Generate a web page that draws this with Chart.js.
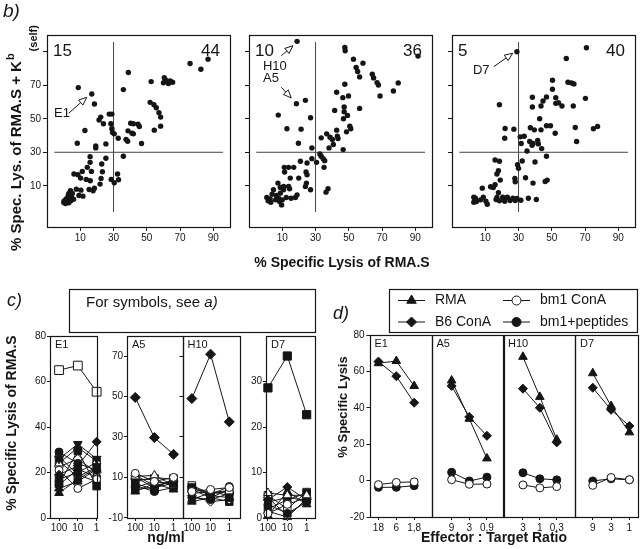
<!DOCTYPE html>
<html><head><meta charset="utf-8">
<script src="https://cdn.jsdelivr.net/npm/chart.js@4.4.1/dist/chart.umd.min.js"></script>
<style>
html,body{margin:0;padding:0;background:#fff;}
#wrap{position:relative;width:640px;height:549px;overflow:hidden;background:#fff;}
#wrap canvas{position:absolute;left:0;top:0;}
</style></head>
<body><div id="wrap"></div>
<script>
// ================= DATA =================
// panel b: scatter of % lysis RMA.S (x) vs RMA.S + Kb(self) (y)
const scatterB1 = [[76,83],[86.8,85.6],[82.5,79.6],[38.9,77.6],[60.5,74.5],[61.5,73],[64,72.5],[65.5,71.8],[60,71.5],[63,71],
 [52.6,72.2],[8.8,68.6],[35.9,67.4],[16.9,64.8],[18.5,58.8],[52,59.8],[54.3,58.4],[55.7,56.6],[57.3,53.6],[58.3,51],[58.3,45.6],[54.5,43.2],
 [27.4,52.8],[29,52.8],[21.3,49.3],[22.3,51],[23.9,47],[28.4,47],[29,44],[29.4,41.8],[30.4,41],
 [40.3,47.3],[41.9,47],[44.7,46.8],[45.5,45.4],[38.7,42.8],[41.1,41.4],[41.9,41],[37.5,37.6],[38.5,36.6],[32.8,38.4],[46.8,35.2],
 [12.8,43],[8.2,35.4],[19.3,33.8],[19.3,32.6],[25.4,35],[35.9,27.6],[15.9,27.4],[15.9,24],[25.4,26.4],
 [11.2,18.6],[14.2,21],[16.7,18.6],[22.9,23],[23.3,18.4],[6.2,17],[8.6,16.6],[10.2,14.6],[13.6,13.8],[16,13],
 [22.5,14.4],[21.9,11],[28.6,13.8],[32.4,17],[33,13.6],[30.4,11.8],[7.6,8],[10.4,7.4],[15.3,7.8],[18.5,8.6],[17.7,7],[9.2,4.2],[11.6,3.8],
 [4.1,7],[3.1,5.4],[5.2,5.4],[2.7,4],[4.7,3],[1.5,2.2],[3.5,2],[0.3,1],[2.3,0.4],[0.1,0],[1.1,-0.6],[3.1,-0.2],[6,2],[4.3,1]];
const scatterB2 = [[18.9,96.2],[47.6,92.6],[47.8,90.6],[91.6,87.4],[52.8,85.6],[58.5,83.2],[54.4,80.6],[55.3,78.2],[56.5,75],
 [64.1,76.6],[64.9,74.4],[67,71.6],[67.8,70.2],[68.8,63.6],[79.7,71.4],[76.8,66.6],[47.6,70.6],
 [42.7,65.8],[49.8,63.6],[46.4,62.6],[47.2,57],[47.2,54.2],[49.2,52],[46.8,50],[56.5,56.2],[41.5,55],
 [50.6,45.6],[51.2,44],[48.6,42.2],[42.7,43.2],[36.7,41],[33.4,38.6],[38.7,39],[40.1,37.6],[43.1,39.6],[43.5,38.2],
 [40.7,34.6],[38.1,32.6],[46.6,31.6],[18.5,59],[23.9,61],[7.6,52.2],[12.8,44],[21.3,43.8],[27,50.6],[19.7,35.4],[27.8,32.6],
 [32.6,29],[33.4,27.6],[34.6,26.2],[35.5,25],[35.1,21],[30.6,24],[27.8,26.2],[24.9,23.6],[20.9,24.6],
 [11.2,21],[13.8,21],[16.9,21],[11.4,18.2],[24.3,18.2],[24.9,16.6],[14.8,14.6],[19.9,14.6],[24.5,11.6],[23.9,9.6],[27,7.6],[37.5,8.2],[36.3,6.2],
 [7.4,11.6],[8.8,9],[10.8,9.6],[13.8,9.6],[14.4,8.2],[10.8,7.6],[8.8,5.6],[4.7,7.6],[3.9,5],[6.4,4.2],[0.7,3],[2.7,2.2],[1.5,1],[3.1,0.2],
 [7.8,2.6],[8.4,0.6],[9.6,-1.4],[12.4,3],[15.3,2.6],[17.9,3],[18.9,4.6],[6,1.6],[10,1.6]];
const scatterB3 = [[29,90],[70.8,92.4],[58.7,86],[50.4,73],[50.4,67.6],[59.7,71.8],[61.9,71.4],[63.3,70.8],[70.2,62.2],
 [46.8,63],[52.4,62.6],[54,59.6],[52.4,59.2],[56.1,57.6],[38.3,62.8],[44.7,60.6],[38.3,57],[43.5,57.6],[62.9,57.6],[18.5,58.4],
 [42.7,50],[46.8,45.8],[49.2,45.8],[52,41.4],[43.5,43.4],[37.1,44.6],[39.5,43.4],[64.1,44.8],[64.9,36.4],[75,44],[77.5,45.4],
 [21.9,44.2],[27.2,43.8],[21.7,38.4],[31,39.2],[33.4,39.6],[31.6,35.2],[36.7,36.4],[38.7,35.2],[41.5,37],[41.9,35],[38.1,34.2],[35.1,30.8],[43.9,32.2],
 [46.8,27.6],[39.9,24.2],[15.9,25.4],[18.5,24.6],[32.2,24.8],[29.4,22.6],[30,20.4],
 [17.9,19],[17,17],[19,13.4],[27.8,14.4],[28,12.4],[34.2,14.8],[47.2,13.4],[46,12.6],[38.7,11.6],
 [15.9,10.6],[13.2,9.4],[14.8,9],[8.2,8.6],[17.9,5.8],[17,3],
 [3.1,3.2],[3.7,1.6],[3.1,0.2],[7.2,1.6],[8.8,3.2],[10.4,0.8],[11.2,-1],[16.5,1.8],[18.5,1],[20.5,3.2],[21.7,0.8],[23.3,3.2],[24.9,1.2],
 [26.6,2.6],[28,1.2],[29,2.4],[31.4,1.4],[35.9,2.6],[40.7,1.8],[4.1,2.6],[4.7,0.6]];
const bQuadrantCut = 30;
const bQuadrantSpan = [-5.6, 95.8];
const bAxisTicks = [10, 30, 50, 70, 90];
const bYTickLabels = ['10', '30', '50', '70', ''];
const bQuadrantCounts = [['15', '44'], ['10', '36'], ['5', '40']];
const bNotes1 = [{text: 'E1', at: [-5.8, 52.9], from: [3.0, 53.3], to: [13.9, 62.8]}];
const bNotes2 = [{text: 'H10', at: [-1.6, 81.2], from: [9.4, 87.6], to: [16.4, 93.6]},
                 {text: 'A5', at: [-1.6, 74.3], from: [9.4, 68.8], to: [15.4, 62.4]}];
const bNotes3 = [{text: 'D7', at: [2.6, 78.8], from: [15.1, 81.1], to: [26.5, 89.1]}];

// panel c: % specific lysis of RMA.S vs peptide concentration
const cDoseLabels = ['100', '10', '1'];
const cE1Markers = ['osquare','fdiam','fdtri','fcircle','fsquare','ocircle','ftri','otri','fsquare','ocircle','odiam','fcircle','ftri','fsquare'];
const cE1Values = [[65,67,55.5],[19,23,33.5],[26,32.5,26],[29,24,21],[15,29.5,14],[21,13,17],[11,17,22],[24,31,25],[17,20,24.5],[27,19,16],[22.5,26,20],[14.5,21.5,18],[13,16,21.5],[25,18,22.5]];
const cA5Markers = ['fdiam','ocircle','fsquare','otri','fcircle','fdtri','odiam','ftri','fsquare','osquare','fcircle','ocircle'];
const cA5Values = [[49.6,29.7,21.4],[12,8,10],[4,5,7],[10.5,11,6],[6,3,5],[8,10,9],[11,6,8],[3,7,4],[7,4,9.5],[9,9,5.5],[5,8,6.5],[10,5,9]];
const cH10Markers = ['fdiam','ocircle','fsquare','osquare','fcircle','ftri','fdtri','odiam','fsquare','otri','fcircle'];
const cH10Values = [[49,71,37.5],[3,4,5],[5,1,0],[6,2,3],[0,-1,2],[-2,0,4],[2,3,1],[1,-2,-1],[4,0,-2],[-1,2.5,3.5],[5.5,1.5,5.5]];
const cD7Markers = ['fsquare','otri','fdiam','ocircle','fcircle','fsquare','osquare','ftri','odiam','fdtri','otri'];
const cD7Values = [[28.6,35.6,22.7],[5.5,5,5],[4,6.8,4],[1,3,4.5],[3,1,3.5],[2,4,5.5],[5,2,5.7],[0.5,5.8,3],[4.5,0.5,4],[3.5,4.5,3.8],[1.5,0.2,4.2]];

// panel d: % specific lysis vs effector:target ratio
const dSeriesNames = ['RMA', 'B6 ConA', 'bm1 ConA', 'bm1+peptides'];
const dSeriesMarkers = ['ftri', 'fdiam', 'ocircle', 'fcircle'];
const dE1Ratios = ['18', '6', '1,8'];
const dA5Ratios = ['9', '3', '0,9'];
const dH10Ratios = ['3', '1', '0,3'];
const dD7Ratios = ['9', '3', '1'];
const dE1Values = [[64.5,65.7,52],[65.4,57.4,42.8],[-2.2,-1,-0.7],[-3.7,-3.7,-2.8]];
const dA5Values = [[55,34,12.2],[52,35,24.6],[0.5,-2,-1.9],[4.6,-0.2,1.9]];
const dH10Values = [[68,46,22.5],[50.5,40,21],[-2.4,-4,-3.3],[4.3,1,0.4]];
const dD7Values = [[59,41,26.5],[51,38.9,30],[-2.6,1.7,0.5],[-0.2,1,0.4]];

// ================= RENDERING =================
const FONT = '"Liberation Sans", Arial, Helvetica, sans-serif';
const INK = '#151515';
const wrap = document.getElementById('wrap');

const MK = {
  fcircle: {s: 'circle', f: true, r: 4},
  ocircle: {s: 'circle', f: false, r: 4},
  fsquare: {s: 'rect', f: true, r: 5.3},
  osquare: {s: 'rect', f: false, r: 5.3},
  ftri: {s: 'triangle', f: true, r: 5},
  otri: {s: 'triangle', f: false, r: 5},
  fdtri: {s: 'triangle', f: true, r: 5, rot: 180},
  fdiam: {s: 'rectRot', f: true, r: 4.5},
  odiam: {s: 'rectRot', f: false, r: 4.5}
};

function drawMarker(ctx, key, x, y, r) {
  const m = MK[key];
  ctx.save();
  ctx.beginPath();
  if (m.s === 'circle') ctx.arc(x, y, r, 0, Math.PI * 2);
  else if (m.s === 'rect') { const h = r * Math.SQRT1_2; ctx.rect(x - h, y - h, 2 * h, 2 * h); }
  else if (m.s === 'rectRot') { ctx.moveTo(x, y - r); ctx.lineTo(x + r, y); ctx.lineTo(x, y + r); ctx.lineTo(x - r, y); ctx.closePath(); }
  else if (m.s === 'triangle') {
    let a = (m.rot || 0) * Math.PI / 180;
    for (let k = 0; k < 3; k++) { const px = x + Math.sin(a) * r, py = y - Math.cos(a) * r; k ? ctx.lineTo(px, py) : ctx.moveTo(px, py); a += 2 * Math.PI / 3; }
    ctx.closePath();
  }
  ctx.fillStyle = m.f ? INK : '#fff';
  ctx.fill();
  ctx.lineWidth = 1; ctx.strokeStyle = INK; ctx.stroke();
  ctx.restore();
}

function txt(ctx, s, x, y, font, align, rot) {
  ctx.save();
  ctx.font = font; ctx.fillStyle = INK;
  ctx.textAlign = align || 'left'; ctx.textBaseline = 'middle';
  ctx.translate(x, y);
  if (rot) ctx.rotate(rot);
  ctx.fillText(s, 0, 0);
  ctx.restore();
}

function arrow(ctx, x1, y1, x2, y2) {
  const ang = Math.atan2(y2 - y1, x2 - x1), L = 8, W = 3.3;
  const bx = x2 - L * Math.cos(ang), by = y2 - L * Math.sin(ang);
  ctx.save();
  ctx.strokeStyle = INK; ctx.lineWidth = 1;
  ctx.beginPath(); ctx.moveTo(x1, y1); ctx.lineTo(bx, by); ctx.stroke();
  ctx.beginPath(); ctx.moveTo(x2, y2);
  ctx.lineTo(bx + W * Math.sin(ang), by - W * Math.cos(ang));
  ctx.lineTo(bx - W * Math.sin(ang), by + W * Math.cos(ang));
  ctx.closePath(); ctx.fillStyle = '#fff'; ctx.fill(); ctx.stroke();
  ctx.restore();
}

function axisCfg(ax, isX) {
  return {
    type: 'linear', min: ax.min, max: ax.max, bounds: 'data',
    afterFit: s => { if (isX) s.height = ax.size; else s.width = ax.size; },
    afterBuildTicks: s => { s.ticks = ax.ticks.map(v => ({value: v})); },
    ticks: {
      autoSkip: false, maxRotation: 0, minRotation: 0, padding: ax.pad != null ? ax.pad : 2,
      color: INK, font: {family: FONT, size: 10},
      callback: v => { const i = ax.ticks.indexOf(v); return ax.labels ? (ax.labels[i] || '') : ''; }
    },
    grid: {display: true, drawOnChartArea: false, drawTicks: ax.tickLen !== 0, tickLength: ax.tickLen || 4,
           color: INK, tickColor: INK, lineWidth: 1},
    border: {display: false}
  };
}

function makeChart(spec) {
  const c = document.createElement('canvas');
  c.width = 640; c.height = 549;
  wrap.appendChild(c);
  const a = spec.area;
  const deco = {
    id: 'deco',
    afterDraw(chart) {
      const ctx = chart.ctx, ca = chart.chartArea;
      ctx.save();
      ctx.strokeStyle = INK; ctx.lineWidth = 1.2;
      ctx.strokeRect(Math.round(ca.left) + 0.5, Math.round(ca.top) + 0.5, Math.round(ca.right - ca.left), Math.round(ca.bottom - ca.top));
      ctx.restore();
      if (spec.draw) spec.draw(chart, ctx, ca);
    }
  };
  return new Chart(c, {
    type: 'line',
    data: {datasets: spec.datasets},
    options: {
      responsive: false, animation: false, events: [],
      layout: {autoPadding: false, padding: {left: a.l - spec.y.size, top: a.t, right: 640 - a.r, bottom: 549 - a.b - spec.x.size}},
      plugins: {legend: {display: false}, tooltip: {enabled: false}, title: {display: false}},
      scales: {x: axisCfg(spec.x, true), y: axisCfg(spec.y, false)}
    },
    plugins: [deco]
  });
}

// ---------- panel b ----------
function scatterSets(points) {
  return [
    {data: points.map(p => ({x: p[0], y: p[1]})), showLine: false, pointRadius: 2.7, pointBackgroundColor: INK,
     pointBorderWidth: 0, pointBorderColor: INK, clip: false},
    {data: [{x: bQuadrantCut, y: bQuadrantSpan[0]}, {x: bQuadrantCut, y: bQuadrantSpan[1]}], borderColor: '#444', borderWidth: 1, pointRadius: 0},
    {data: [{x: bQuadrantSpan[0], y: bQuadrantCut}, {x: bQuadrantSpan[1], y: bQuadrantCut}], borderColor: '#444', borderWidth: 1, pointRadius: 0}
  ];
}
function bDraw(counts, notes) {
  return (chart, ctx, ca) => {
    const sx = chart.scales.x, sy = chart.scales.y;
    txt(ctx, counts[0], ca.left + 6, ca.top + 16, '17px ' + FONT, 'left');
    txt(ctx, counts[1], ca.right - 10, ca.top + 16, '17px ' + FONT, 'right');
    notes.forEach(n => {
      txt(ctx, n.text, sx.getPixelForValue(n.at[0]), sy.getPixelForValue(n.at[1]), '13px ' + FONT, 'left');
      arrow(ctx, sx.getPixelForValue(n.from[0]), sy.getPixelForValue(n.from[1]), sx.getPixelForValue(n.to[0]), sy.getPixelForValue(n.to[1]));
    });
  };
}
const bX = {min: -10, max: 100, ticks: bAxisTicks, labels: bAxisTicks.map(String), size: 22, pad: 1, tickLen: 4};
makeChart({area: {l: 47, t: 35, r: 230, b: 227}, x: bX,
  y: {min: -14.6, max: 100, ticks: bAxisTicks, labels: bYTickLabels, size: 28, pad: 2, tickLen: 4},
  datasets: scatterSets(scatterB1), draw: bDraw(bQuadrantCounts[0], bNotes1)});
makeChart({area: {l: 249, t: 35, r: 432, b: 227}, x: bX,
  y: {min: -14.6, max: 100, ticks: bAxisTicks, labels: null, size: 10, tickLen: 4},
  datasets: scatterSets(scatterB2), draw: bDraw(bQuadrantCounts[1], bNotes2)});
makeChart({area: {l: 452, t: 35, r: 635, b: 227}, x: bX,
  y: {min: -14.6, max: 100, ticks: bAxisTicks, labels: null, size: 10, tickLen: 4},
  datasets: scatterSets(scatterB3), draw: bDraw(bQuadrantCounts[2], bNotes3)});

// ---------- panel c & d (line panels) ----------
function lineSets(markers, values, bigIndex, bigR) {
  return values.map((vals, i) => {
    const m = MK[markers[i]];
    return {
      data: vals.map((v, k) => ({x: k, y: v})),
      borderColor: INK, borderWidth: 1, tension: 0, clip: false,
      pointStyle: m.s, pointRotation: m.rot || 0,
      pointRadius: (i === bigIndex && bigR) ? bigR : m.r,
      pointBackgroundColor: m.f ? INK : '#fff', pointBorderColor: INK, pointBorderWidth: 1
    };
  });
}
function cornerLabel(label) {
  return (chart, ctx, ca) => txt(ctx, label, ca.left + 5, ca.top + 9, '11px ' + FONT, 'left');
}
const cTicks = [0, 1, 2];
makeChart({area: {l: 50, t: 336, r: 97, b: 518},
  x: {min: -0.48, max: 2.02, ticks: cTicks, labels: cDoseLabels, size: 20, pad: 1, tickLen: 3},
  y: {min: 0, max: 80, ticks: [0, 20, 40, 60, 80], labels: ['0', '20', '40', '60', '80'], size: 24, pad: 1, tickLen: 3},
  datasets: lineSets(cE1Markers, cE1Values, 0, 6.2), draw: cornerLabel('E1')});
makeChart({area: {l: 127, t: 336, r: 182.5, b: 518},
  x: {min: -0.43, max: 2.47, ticks: cTicks, labels: cDoseLabels, size: 20, pad: 1, tickLen: 3},
  y: {min: -10.1, max: 80, ticks: [-10, 10, 30, 50, 70], labels: ['-10', '10', '30', '50', '70'], size: 24, pad: 1, tickLen: 3},
  datasets: lineSets(cA5Markers, cA5Values, 0, 5), draw: cornerLabel('A5')});
makeChart({area: {l: 182.5, t: 336, r: 239, b: 518},
  x: {min: -0.5, max: 2.52, ticks: cTicks, labels: cDoseLabels, size: 20, pad: 1, tickLen: 3},
  y: {min: -10.1, max: 80, ticks: [10, 30, 50, 70], labels: null, size: 6, tickLen: 3},
  datasets: lineSets(cH10Markers, cH10Values, 0, 5), draw: cornerLabel('H10')});
makeChart({area: {l: 266, t: 336, r: 315, b: 518},
  x: {min: -0.1, max: 2.43, ticks: cTicks, labels: cDoseLabels, size: 20, pad: 1, tickLen: 3},
  y: {min: 0, max: 40, ticks: [0, 10, 20, 30], labels: ['0', '10', '20', '30'], size: 24, pad: 1, tickLen: 3},
  datasets: lineSets(cD7Markers, cD7Values, 0, 5.8), draw: cornerLabel('D7')});

const dY = [-20, 0, 20, 40, 60, 80];
makeChart({area: {l: 369.5, t: 335, r: 431.5, b: 517},
  x: {min: -0.5, max: 2.97, ticks: cTicks, labels: dE1Ratios, size: 20, pad: 2, tickLen: 3},
  y: {min: -20, max: 80, ticks: dY, labels: dY.map(String), size: 24, pad: 2, tickLen: 3},
  datasets: lineSets(dSeriesMarkers, dE1Values), draw: cornerLabel('E1')});
makeChart({area: {l: 431.5, t: 335, r: 503, b: 517},
  x: {min: -1.14, max: 2.91, ticks: cTicks, labels: dA5Ratios, size: 20, pad: 2, tickLen: 3},
  y: {min: -20, max: 80, ticks: [0], labels: null, size: 2, tickLen: 0},
  datasets: lineSets(dSeriesMarkers, dA5Values), draw: cornerLabel('A5')});
makeChart({area: {l: 503, t: 335, r: 575, b: 517},
  x: {min: -1.18, max: 3.08, ticks: cTicks, labels: dH10Ratios, size: 20, pad: 2, tickLen: 3},
  y: {min: -20, max: 80, ticks: [0], labels: null, size: 2, tickLen: 0},
  datasets: lineSets(dSeriesMarkers, dH10Values), draw: cornerLabel('H10')});
makeChart({area: {l: 575, t: 335, r: 638, b: 517},
  x: {min: -0.97, max: 2.47, ticks: cTicks, labels: dD7Ratios, size: 20, pad: 2, tickLen: 3},
  y: {min: -20, max: 80, ticks: [0], labels: null, size: 2, tickLen: 0},
  datasets: lineSets(dSeriesMarkers, dD7Values),
  draw: (chart, ctx, ca) => { cornerLabel('D7')(chart, ctx, ca); drawPage(ctx); }});

// ---------- page-level texts, boxes, legend ----------
function drawPage(ctx) {
  ctx.save();
  txt(ctx, 'b)', 3, 12, 'italic 19px ' + FONT, 'left');
  txt(ctx, 'c)', 7, 301, 'italic 18px ' + FONT, 'left');
  txt(ctx, 'd)', 333, 314, 'italic 18px ' + FONT, 'left');
  txt(ctx, '% Specific Lysis of RMA.S', 342, 263, 'bold 14px ' + FONT, 'center');
  txt(ctx, '% Specific Lysis of RMA.S', 12, 423, 'bold 14px ' + FONT, 'center', -Math.PI / 2);
  txt(ctx, 'ng/ml', 166, 538, 'bold 14px ' + FONT, 'center');
  txt(ctx, '% Specific Lysis', 343, 407, 'bold 13px ' + FONT, 'center', -Math.PI / 2);
  txt(ctx, 'Effector : Target Ratio', 494, 538, 'bold 14px ' + FONT, 'center');

  // y title of panel b with superscript / subscript
  ctx.save();
  ctx.fillStyle = INK; ctx.textBaseline = 'alphabetic'; ctx.textAlign = 'left';
  ctx.translate(21, 251); ctx.rotate(-Math.PI / 2);
  ctx.font = 'bold 15px ' + FONT;
  const main = '% Spec. Lys. of RMA.S + K';
  ctx.fillText(main, 0, 0);
  const w = ctx.measureText(main).width;
  ctx.font = 'bold 11px ' + FONT;
  ctx.fillText('b', w + 1, -7);
  const wb = ctx.measureText('b').width;
  ctx.fillText('(self)', w + wb + 3, 16);
  ctx.restore();

  // symbol note box (panel c)
  ctx.strokeStyle = INK; ctx.lineWidth = 1.2;
  ctx.strokeRect(69.5, 289.5, 246, 43);
  ctx.font = '15px ' + FONT;
  const part = 'For symbols, see ';
  txt(ctx, part, 86, 303, '15px ' + FONT, 'left');
  const pw = ctx.measureText(part).width;
  txt(ctx, 'a)', 86 + pw, 303, 'italic 15px ' + FONT, 'left');

  // legend box (panel d)
  ctx.strokeRect(389.5, 289.5, 248, 43);
  const cols = [398, 503], rows = [300.5, 322];
  const order = [[0, 0], [1, 0], [0, 1], [1, 1]]; // [row, col] per series
  dSeriesNames.forEach((name, i) => {
    const x0 = cols[order[i][1]], y = rows[order[i][0]];
    ctx.beginPath(); ctx.lineWidth = 1; ctx.moveTo(x0, y); ctx.lineTo(x0 + 27, y); ctx.stroke();
    drawMarker(ctx, dSeriesMarkers[i], x0 + 13.5, y, MK[dSeriesMarkers[i]].r + 0.5);
    txt(ctx, name, x0 + 37, y, '14px ' + FONT, 'left');
  });
  ctx.restore();
}
</script>
</body></html>
